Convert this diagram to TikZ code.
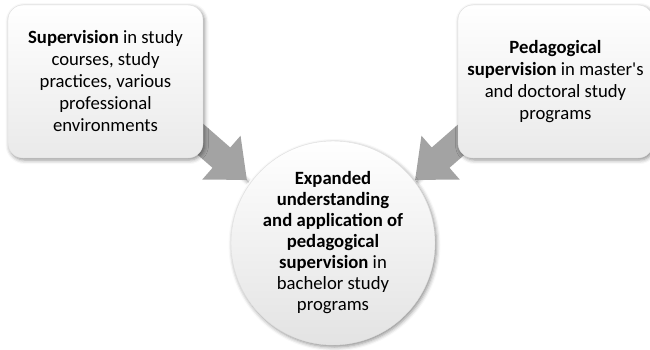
\documentclass[tikz,border=0pt]{standalone}
\usepackage{fontspec}
\setmainfont{Carlito}
\usetikzlibrary{arrows.meta,shadows.blur}

\begin{document}
\begin{tikzpicture}[x=1pt,y=-1pt,
    every node/.style={align=center,font=\fontsize{18.7}{22}\selectfont},
    soft/.style={blur shadow={shadow xshift=1.5pt,shadow yshift=-2pt,shadow blur radius=4pt,shadow opacity=45}},
    card/.style={soft,rounded corners=15pt,draw=gray!25,top color=white,bottom color=gray!17,
                 minimum width=195pt,minimum height=153pt,inner sep=0pt},
    goal/.style={soft,circle,draw=gray!25,top color=white,bottom color=gray!22,
                 minimum size=204pt,inner sep=0pt,font=\fontsize{18.7}{21}\selectfont},
    fat/.style={line width=27pt,draw=gray!72,-{Triangle[width=56pt,length=34pt]},
                preaction={soft}}]
  \useasboundingbox (0,0) rectangle (650,349);
  \coordinate (lfoot) at (176,118);
  \coordinate (ltip)  at (247,180);
  \coordinate (rfoot) at (486,118);
  \coordinate (rtip)  at (415,180);
  \draw[fat] (lfoot) -- (ltip);
  \draw[fat] (rfoot) -- (rtip);
  \node[card] (sup)  at (105.5,81.5) {\textbf{Supervision} in study\\courses, study\\practices, various\\professional\\environments};
  \node[card] (ped)  at (555.5,81.5) {\textbf{Pedagogical}\\\textbf{supervision} in master\textquotesingle s\\and doctoral study\\programs};
  \node[goal] (bach) at (333,243)    {\textbf{Expanded}\\\textbf{understanding}\\\textbf{and application of}\\\textbf{pedagogical}\\\textbf{supervision} in\\bachelor study\\programs};
\end{tikzpicture}
\end{document}
